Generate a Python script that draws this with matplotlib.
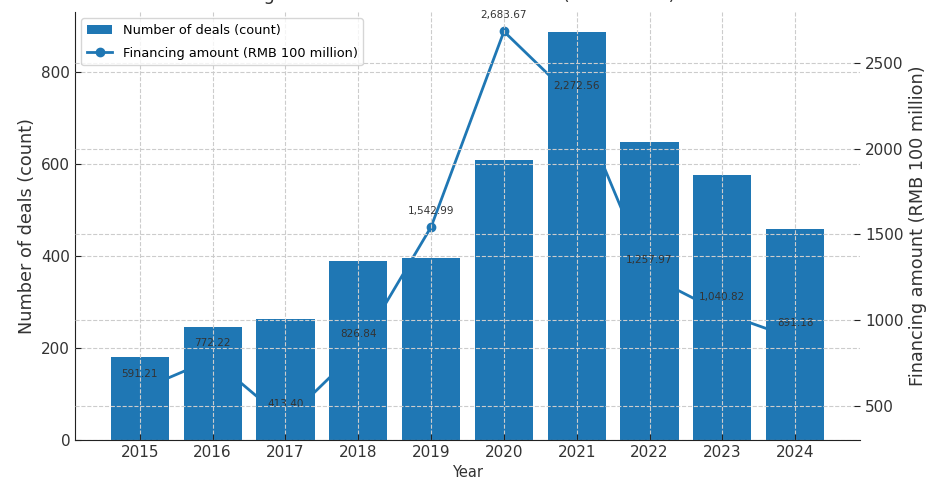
import matplotlib
matplotlib.use('Agg')
import matplotlib.pyplot as plt
from matplotlib.lines import Line2D

# data
years = [2015, 2016, 2017, 2018, 2019, 2020, 2021, 2022, 2023, 2024]
deal_counts = [180, 246, 262, 389, 396, 607, 885, 648, 576, 459]
financing_amounts = [591.21, 772.22, 413.40, 826.84, 1542.99,
                     2683.67, 2272.56, 1257.97, 1040.82, 891.18]

title = 'Annual Financing Deals and Total Amount Raised (2015–2024)'
bar_label = 'Number of deals (count)'
line_label = 'Financing amount (RMB 100 million)'

BLUE = '#1f77b4'
TEXT = '#333333'
GRID = dict(linestyle='--', color='#cccccc', linewidth=0.8)

plt.rcParams['font.family'] = ['DejaVu Sans']

fig = plt.figure(figsize=(9.3, 4.84), dpi=100)
ax1 = fig.add_axes([75 / 930, 44 / 484, 785 / 930, 428 / 484])
ax2 = ax1.twinx()

# bars on the left axis
bars = ax1.bar(years, deal_counts, width=0.8, color=BLUE, zorder=2,
               label=bar_label)

# the line uses the right-hand scale but is drawn in ax1, under the bars
ax2.plot(years, financing_amounts, visible=False)  # only for autoscaling
line = Line2D(years, financing_amounts, marker='o', markersize=6,
              linewidth=2, color=BLUE, zorder=1,
              transform=ax2.transData, label=line_label)
ax1.add_artist(line)
for x, v in zip(years, financing_amounts):
    ax1.annotate(f'{v:,.2f}', (x, v), xycoords=ax2.transData,
                 xytext=(0, 8), textcoords='offset points',
                 ha='center', va='bottom', fontsize=7.5, color=TEXT,
                 zorder=5)

ax1.set_axisbelow(False)
ax1.grid(True, **GRID)
ax2.grid(True, axis='y', **GRID)

ax1.set_xticks(years)
ax1.set_xlabel('Year', fontsize=10.5, color=TEXT)
ax1.set_ylabel(bar_label, fontsize=12.7, color=TEXT)
ax2.set_ylabel(line_label, fontsize=12.7, color=TEXT)
ax2.set_yticks([500, 1000, 1500, 2000, 2500])

for ax in (ax1, ax2):
    ax.tick_params(direction='in', length=4, labelsize=11,
                   colors='#222222', labelcolor=TEXT)
    ax.spines['top'].set_visible(False)
    ax.spines['right'].set_visible(False)
ax2.spines['left'].set_visible(False)
ax2.spines['bottom'].set_visible(False)
ax1.spines['left'].set_color('#222222')
ax1.spines['bottom'].set_color('#222222')

ax2.legend([bars, line], [bar_label, line_label], loc='upper left',
           fontsize=9.3, labelspacing=0.8, framealpha=0.8)

# the title sits above the canvas edge, as in the cropped reference
fig.text(675 / 930, 1.0, title, ha='right', va='baseline',
         fontsize=12.8, color=TEXT)

fig.savefig('out.png', dpi=100)
